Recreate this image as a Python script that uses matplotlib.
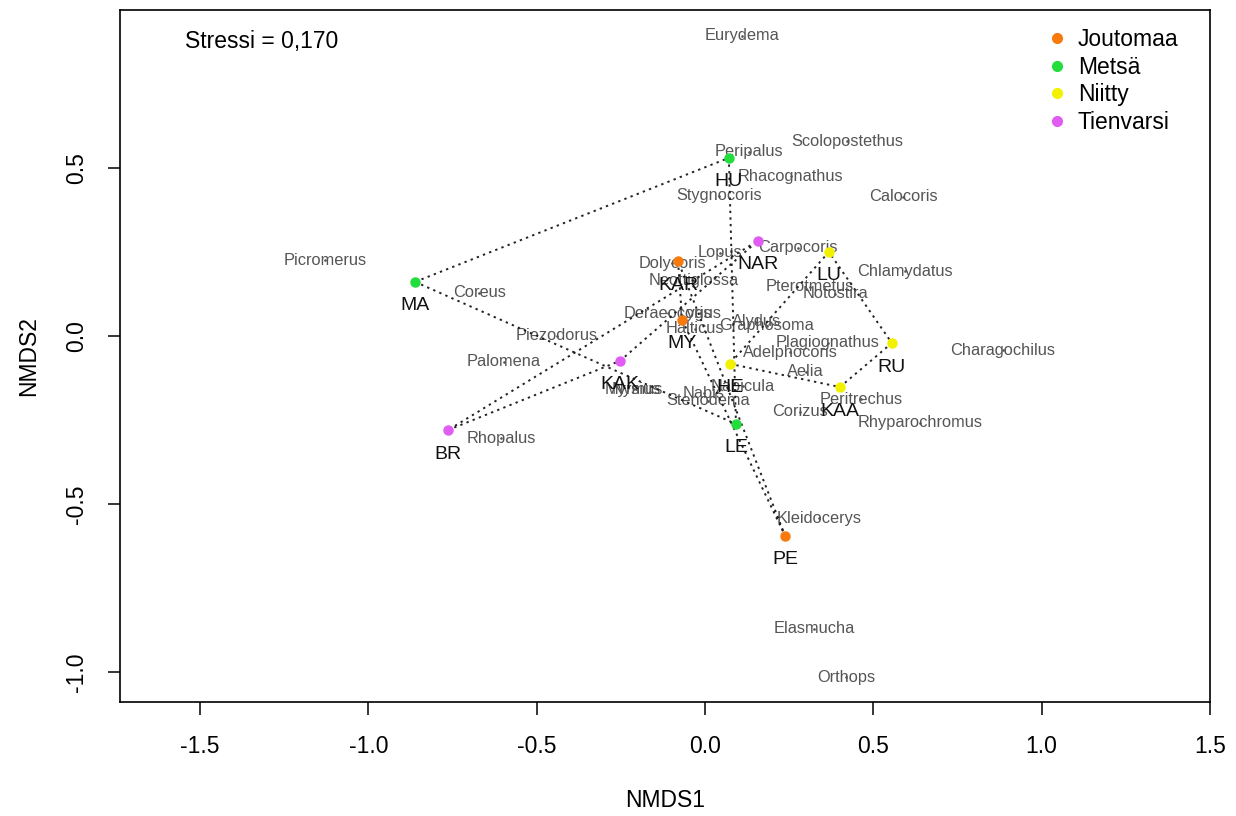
import numpy as np
import matplotlib
matplotlib.use('Agg')
import matplotlib.pyplot as plt
from matplotlib.lines import Line2D

plt.rcParams['font.family'] = ['Liberation Sans', 'DejaVu Sans']
plt.rcParams['axes.unicode_minus'] = False

# sites (NMDS scores) and their habitat group
site_names = ['HU', 'MA', 'LE', 'KAR', 'MY', 'PE', 'LU', 'RU', 'HE', 'KAA', 'NAR', 'KAK', 'BR']
site_x = [0.071, -0.861, 0.092, -0.080, -0.068, 0.238, 0.368, 0.555, 0.074, 0.401, 0.157, -0.252, -0.763]
site_y = [0.530, 0.161, -0.262, 0.223, 0.048, -0.595, 0.250, -0.021, -0.083, -0.152, 0.283, -0.074, -0.280]
site_group = ['Metsä', 'Metsä', 'Metsä', 'Joutomaa', 'Joutomaa', 'Joutomaa',
              'Niitty', 'Niitty', 'Niitty', 'Niitty', 'Tienvarsi', 'Tienvarsi', 'Tienvarsi']

groups = ['Joutomaa', 'Metsä', 'Niitty', 'Tienvarsi']
group_colors = ['#F97A0C', '#22DD3C', '#F2F200', '#E05CF2']

# species scores
species = ['Eurydema', 'Scolopostethus', 'Peripalus', 'Rhacognathus', 'Calocoris', 'Stygnocoris',
           'Picromerus', 'Coreus', 'Piezodorus', 'Palomena', 'Rhopalus', 'Carpocoris', 'Lopus',
           'Dolycoris', 'Neottiglossa', 'Chlamydatus', 'Pterotmetus', 'Notostira', 'Deraeocoris',
           'Lygus', 'Halticus', 'Alydus', 'Graphosoma', 'Plagiognathus', 'Adelphocoris', 'Aelia',
           'Charagochilus', 'Nysius', 'Myrmus', 'Nabis', 'Stenodema', 'Nabicula', 'Corizus',
           'Peritrechus', 'Rhyparochromus', 'Kleidocerys', 'Elasmucha', 'Orthops']
sp_x = [0.110, 0.422, 0.131, 0.255, 0.588, 0.042,
        -1.129, -0.671, -0.440, -0.597, -0.606, 0.276, 0.045,
        -0.098, -0.033, 0.594, 0.311, 0.386, -0.110,
        -0.015, -0.030, 0.152, 0.184, 0.364, 0.253, 0.299,
        0.885, -0.205, -0.212, -0.003, 0.009, 0.113, 0.282,
        0.463, 0.639, 0.339, 0.324, 0.419]
sp_y = [0.893, 0.580, 0.548, 0.476, 0.414, 0.417,
        0.226, 0.128, 0.000, -0.077, -0.304, 0.262, 0.247,
        0.217, 0.164, 0.193, 0.146, 0.125, 0.068,
        0.068, 0.021, 0.042, 0.030, -0.020, -0.048, -0.107,
        -0.042, -0.158, -0.158, -0.170, -0.193, -0.149, -0.226,
        -0.188, -0.259, -0.542, -0.872, -1.015]

stress_text = 'Stressi = 0,170'


def hull(pts):
    # monotone chain convex hull
    pts = sorted(map(tuple, pts))
    if len(pts) < 3:
        return pts

    def cross(o, a, b):
        return (a[0]-o[0])*(b[1]-o[1]) - (a[1]-o[1])*(b[0]-o[0])
    lower, upper = [], []
    for p in pts:
        while len(lower) >= 2 and cross(lower[-2], lower[-1], p) <= 0:
            lower.pop()
        lower.append(p)
    for p in reversed(pts):
        while len(upper) >= 2 and cross(upper[-2], upper[-1], p) <= 0:
            upper.pop()
        upper.append(p)
    return lower[:-1] + upper[:-1]


fig = plt.figure(figsize=(12.36, 8.16), dpi=100)
ax = fig.add_axes([120/1236, 114/816, 1090/1236, 692/816])

site_x = np.array(site_x)
site_y = np.array(site_y)
site_group = np.array(site_group)

# species
ax.plot(sp_x, sp_y, 'o', color='#555555', markersize=0.9, zorder=2)
for name, x, y in zip(species, sp_x, sp_y):
    ax.text(x, y, name, ha='center', va='center', fontsize=11.8, color='#555555', zorder=3)

# hulls
for g in groups:
    m = site_group == g
    h = hull(np.column_stack([site_x[m], site_y[m]]))
    h = np.array(h + [h[0]])
    ax.plot(h[:, 0], h[:, 1], color='#222222', lw=1.4, linestyle=(0, (1.2, 2.2)), zorder=4)

# sites
for g, c in zip(groups, group_colors):
    m = site_group == g
    ax.plot(site_x[m], site_y[m], 'o', color=c, markersize=6.5, zorder=5)
for name, x, y in zip(site_names, site_x, site_y):
    ax.annotate(name, (x, y), xytext=(0, -24), textcoords='offset pixels',
                ha='center', va='center', fontsize=14, color='#111111', zorder=6)

ax.set_xlim(-1.7375, 1.4998)
ax.set_ylim(-1.0893, 0.970)
ax.set_xticks([-1.5, -1.0, -0.5, 0.0, 0.5, 1.0, 1.5])
ax.set_xticklabels(['-1.5', '-1.0', '-0.5', '0.0', '0.5', '1.0', '1.5'])
ax.set_yticks([-1.0, -0.5, 0.0, 0.5])
ax.set_yticklabels(['-1.0', '-0.5', '0.0', '0.5'], rotation=90, va='center')
ax.tick_params(length=9, width=1.1, labelsize=16.5)
ax.tick_params(axis='x', pad=15)
ax.tick_params(axis='y', pad=14)
for s in ax.spines.values():
    s.set_linewidth(1.2)
ax.set_xlabel('NMDS1', fontsize=16.5, labelpad=22)
ax.set_ylabel('NMDS2', fontsize=16.5, labelpad=18)

ax.text(0.06, 0.955, stress_text, transform=ax.transAxes, fontsize=16.5, va='center')

handles = [Line2D([], [], marker='o', linestyle='none', color=c, markersize=7) for c in group_colors]
ax.legend(handles, groups, loc='upper right', frameon=False, fontsize=16.5,
          handletextpad=0.3, labelspacing=0.2, borderaxespad=0.4, handlelength=1.2,
          bbox_to_anchor=(0.988, 1.0))

fig.savefig('out.png', dpi=100)
